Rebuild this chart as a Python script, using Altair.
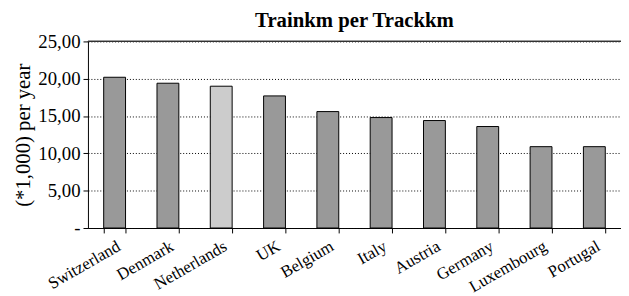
import altair as alt
import pandas as pd

countries = ["Switzerland", "Denmark", "Netherlands", "UK", "Belgium",
             "Italy", "Austria", "Germany", "Luxembourg", "Portugal"]
values = [20.2, 19.4, 19.0, 17.7, 15.6, 14.8, 14.4, 13.6, 10.9, 10.9]
highlight = "Netherlands"
y_ticks = [0, 5, 10, 15, 20, 25]

df = pd.DataFrame({"country": countries, "value": values})

FONT = "Liberation Serif"

y_axis = alt.Axis(values=y_ticks,
                  labelExpr="datum.value == 0 ? '-' : replace(format(datum.value, '.2f'), '.', ',')",
                  title="(*1,000) per year", titleFont=FONT,
                  titleFontSize=21, titleFontWeight="normal",
                  titleColor="black", labelOverlap=False,
                  labelFont=FONT, labelFontSize=19, labelColor="black",
                  grid=True, gridDash=[1, 2], gridColor="black",
                  gridOpacity=1, tickSize=5, tickColor="black",
                  domainColor="black", labelPadding=3, titlePadding=4)
y_scale = alt.Scale(domain=[0, 25], nice=False)

bars = alt.Chart(df).mark_bar(stroke="black", strokeWidth=1).encode(
    x=alt.X("country:N", sort=countries,
            scale=alt.Scale(paddingInner=0.59, paddingOuter=0.295),
            axis=alt.Axis(title=None, labelAngle=-30, labelFont=FONT,
                          labelFontSize=17, labelColor="black",
                          labelAlign="right", labelBaseline="top",
                          labelOverlap=False, labelLimit=300,
                          tickBand="extent", ticks=True, tickSize=5,
                          tickColor="black", domainColor="black",
                          labelPadding=5)),
    y=alt.Y("value:Q", scale=y_scale, axis=y_axis),
    color=alt.condition(alt.datum.country == highlight,
                        alt.value("#cccccc"), alt.value("#999999")),
)

top = alt.Chart(df).mark_rule(color="#333333", strokeWidth=1).encode(
    y=alt.Y(datum=25, scale=y_scale, axis=y_axis)
)

chart = alt.layer(bars, top).properties(
    width=540, height=189,
    autosize=alt.AutoSizeParams(type="none"),
    padding={"left": 81, "top": 32, "right": 0, "bottom": 67},
    title=alt.TitleParams("Trainkm per Trackkm", font=FONT, fontSize=21,
                          fontWeight="bold", color="black", anchor="middle",
                          frame="group", offset=2),
).configure(font=FONT).configure_axis(
    labelFont=FONT, titleFont=FONT
).configure_view(stroke=None)

chart.save("out.html", embed_options={"renderer": "svg", "actions": False})
